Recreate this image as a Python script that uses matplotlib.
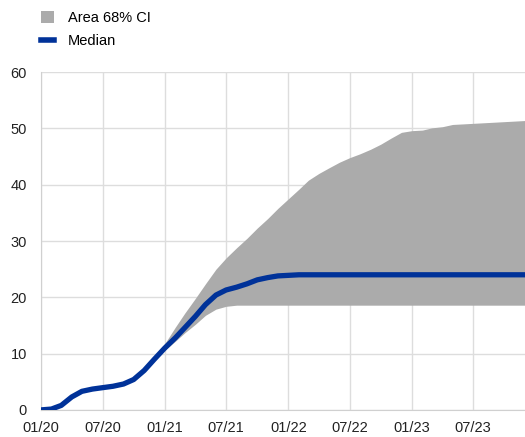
import matplotlib
matplotlib.use("Agg")
import matplotlib.pyplot as plt
import matplotlib.dates as mdates
from matplotlib.patches import Patch
from matplotlib.lines import Line2D
import numpy as np
import pandas as pd

plt.rcParams["font.family"] = ["Liberation Sans", "DejaVu Sans"]

# monthly observations, Jan 2020 .. Dec 2023
dates = pd.date_range("2020-01-01", periods=48, freq="MS")

median = [0.0, 0.15, 0.8, 2.3, 3.3, 3.7, 3.95, 4.2, 4.6, 5.4, 7.0, 9.0,
          11.0, 12.8, 14.6, 16.6, 18.7, 20.4, 21.3, 21.8, 22.4, 23.1, 23.5, 23.8,
          23.9, 24.0, 24.0, 24.0, 24.0, 24.0, 24.0, 24.0, 24.0, 24.0, 24.0, 24.0,
          24.0, 24.0, 24.0, 24.0, 24.0, 24.0, 24.0, 24.0, 24.0, 24.0, 24.0, 24.0]

lower = [0.0, 0.15, 0.8, 2.3, 3.3, 3.7, 3.95, 4.2, 4.6, 5.4, 6.8, 8.7,
         10.6, 12.2, 13.7, 15.2, 16.8, 17.9, 18.4, 18.6, 18.6, 18.6, 18.6, 18.6,
         18.6, 18.6, 18.6, 18.6, 18.6, 18.6, 18.6, 18.6, 18.6, 18.6, 18.6, 18.6,
         18.6, 18.6, 18.6, 18.6, 18.6, 18.6, 18.6, 18.6, 18.6, 18.6, 18.6, 18.6]

upper = [0.0, 0.15, 0.8, 2.3, 3.3, 3.7, 3.95, 4.2, 4.6, 5.4, 7.1, 9.2,
         11.8, 14.7, 17.2, 19.8, 22.4, 25.0, 27.0, 28.8, 30.5, 32.3, 34.0, 35.8,
         37.5, 39.2, 40.8, 42.0, 43.0, 44.0, 44.8, 45.5, 46.3, 47.2, 48.3, 49.3,
         49.6, 49.7, 50.1, 50.3, 50.7, 50.8, 50.9, 51.0, 51.1, 51.2, 51.3, 51.4]

yticks = [0, 10, 20, 30, 40, 50, 60]

GREY = "#ababab"
BLUE = "#003299"

fig = plt.figure(figsize=(5.25, 4.37), dpi=100)
ax = fig.add_axes([0.078, 0.062, 0.922, 0.773])

ax.fill_between(dates, lower, upper, color=GREY, linewidth=0, zorder=2)
ax.plot(dates, median, color=BLUE, linewidth=3.8, solid_capstyle="butt",
        solid_joinstyle="round", zorder=3)

ax.set_xlim(dates[0], dates[-1])
ax.set_ylim(0, 60)
ax.set_yticks(yticks)
ax.xaxis.set_major_locator(mdates.MonthLocator(bymonth=[1, 7]))
ax.xaxis.set_major_formatter(mdates.DateFormatter("%m/%y"))

ax.grid(True, color="#dddddd", linewidth=1, zorder=0)
ax.set_axisbelow(True)
for side in ["top", "right"]:
    ax.spines[side].set_visible(False)
for side in ["left", "bottom"]:
    ax.spines[side].set_color("#d0d0d0")
    ax.spines[side].set_zorder(1)
ax.tick_params(length=0, labelsize=10.5, colors="#222222")
ax.tick_params(axis="y", pad=10)
ax.tick_params(axis="x", pad=8)

handles = [Patch(facecolor=GREY, edgecolor="none", label="Area 68% CI"),
           Line2D([0], [0], color=BLUE, linewidth=4, label="Median")]
fig.legend(handles=handles, loc="upper left", bbox_to_anchor=(0.062, 0.995),
           frameon=False, fontsize=10.5, handlelength=0.9, handleheight=0.9,
           handletextpad=0.9, labelspacing=0.62, borderaxespad=0.2)

fig.savefig("out.png", dpi=100)
